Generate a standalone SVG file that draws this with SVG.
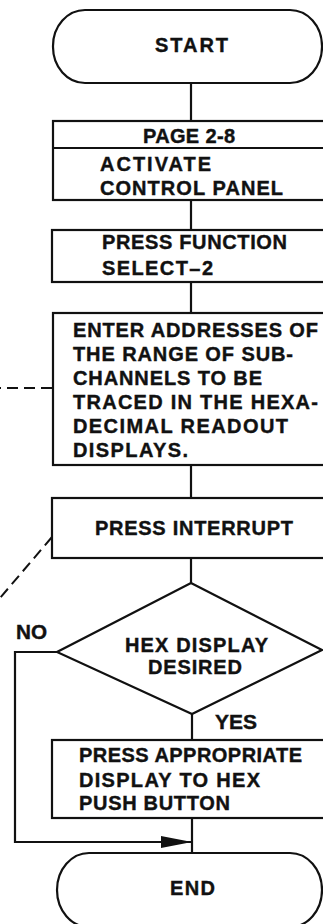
<svg xmlns="http://www.w3.org/2000/svg" width="323" height="924" viewBox="0 0 323 924">
<style>
.s{fill:none;stroke:#111;stroke-width:2.2}
.b{fill:#fff;stroke:#111;stroke-width:2.2}
.d{fill:none;stroke:#111;stroke-width:2;stroke-dasharray:11 6}
text{font-family:"Liberation Sans",Arial,sans-serif;font-weight:bold;font-size:20px;fill:#111;stroke:#111;stroke-width:0.4}
</style>
<defs>
<marker id="ah" markerWidth="32" markerHeight="14" refX="31" refY="7" orient="auto" markerUnits="userSpaceOnUse">
<path d="M0,1 L31,7 L0,13 Z" fill="#111"/>
</marker>
</defs>
<g id="connectors">
<line class="s" x1="191" y1="83" x2="191" y2="121"/>
<line class="s" x1="191" y1="200" x2="191" y2="230"/>
<line class="s" x1="191" y1="282" x2="191" y2="313"/>
<line class="s" x1="191" y1="465" x2="191" y2="498"/>
<line class="s" x1="191" y1="558" x2="191" y2="583"/>
<line class="s" x1="192" y1="714" x2="192" y2="740"/>
<line class="s" x1="192" y1="818" x2="192" y2="853"/>
<polyline class="s" points="57,652 15,652 15,842 160,842"/>
<line class="s" x1="150" y1="842" x2="192" y2="842" marker-end="url(#ah)"/>
<line class="d" x1="52" y1="388" x2="0" y2="388"/>
<line class="d" x1="52" y1="537" x2="0" y2="598"/>
<text x="16" y="639" textLength="31" lengthAdjust="spacingAndGlyphs">NO</text>
<text x="215" y="729" textLength="42" lengthAdjust="spacingAndGlyphs">YES</text>
</g>
<g id="start">
<rect class="b" x="53" y="10" width="269" height="73" rx="32" ry="36"/>
<text x="155" y="52" textLength="73" lengthAdjust="spacing">START</text>
</g>
<g id="activate">
<rect class="b" x="53" y="121" width="280" height="79"/>
<line class="s" x1="53" y1="148" x2="333" y2="148"/>
<text x="143" y="143" textLength="92" lengthAdjust="spacing">PAGE 2-8</text>
<text x="100" y="171" textLength="111" lengthAdjust="spacing">ACTIVATE</text>
<text x="100" y="195" textLength="183" lengthAdjust="spacing">CONTROL PANEL</text>
</g>
<g id="function">
<rect class="b" x="52" y="230" width="281" height="52"/>
<text x="102" y="249" textLength="185" lengthAdjust="spacing">PRESS FUNCTION</text>
<text x="102" y="275" textLength="111" lengthAdjust="spacing">SELECT–2</text>
</g>
<g id="enter">
<rect class="b" x="53" y="313" width="280" height="152"/>
<text x="73" y="337" textLength="245" lengthAdjust="spacing">ENTER ADDRESSES OF</text>
<text x="73" y="361" textLength="220" lengthAdjust="spacing">THE RANGE OF SUB-</text>
<text x="73" y="385" textLength="189" lengthAdjust="spacing">CHANNELS TO BE</text>
<text x="73" y="409" textLength="245" lengthAdjust="spacing">TRACED IN THE HEXA-</text>
<text x="73" y="433" textLength="215" lengthAdjust="spacing">DECIMAL READOUT</text>
<text x="73" y="457" textLength="115" lengthAdjust="spacing">DISPLAYS.</text>
</g>
<g id="interrupt">
<rect class="b" x="52" y="498" width="281" height="60"/>
<text x="95" y="535" textLength="198" lengthAdjust="spacing">PRESS INTERRUPT</text>
</g>
<g id="decision">
<polygon class="b" points="191,583 322,650 192,714 57,652"/>
<text x="125" y="652" textLength="143" lengthAdjust="spacing">HEX DISPLAY</text>
<text x="148" y="674" textLength="94" lengthAdjust="spacing">DESIRED</text>
</g>
<g id="appropriate">
<rect class="b" x="52" y="740" width="281" height="78"/>
<text x="79" y="762" textLength="223" lengthAdjust="spacing">PRESS APPROPRIATE</text>
<text x="79" y="787" textLength="181" lengthAdjust="spacing">DISPLAY TO HEX</text>
<text x="79" y="810" textLength="151" lengthAdjust="spacing">PUSH BUTTON</text>
</g>
<g id="end">
<rect class="b" x="57" y="853" width="265" height="74" rx="32" ry="37"/>
<text x="170" y="895" textLength="45" lengthAdjust="spacing">END</text>
</g>
</svg>
